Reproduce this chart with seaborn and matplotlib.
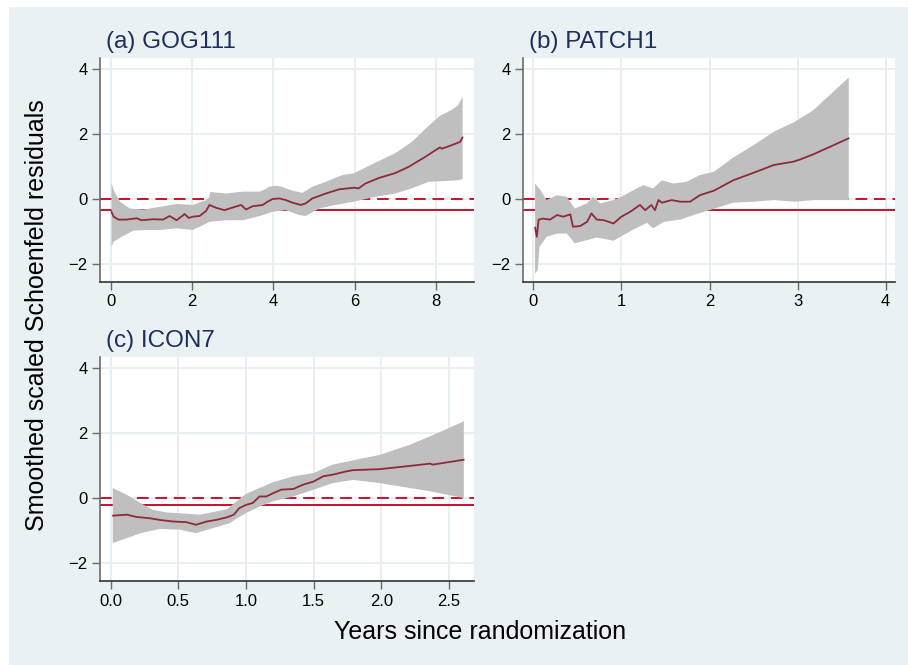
import numpy as np
import matplotlib
matplotlib.use("Agg")
import matplotlib.pyplot as plt
import seaborn as sns

# ---- data ----
# (a) GOG111
a_x = [0.02, 0.07, 0.19, 0.39, 0.64, 0.76, 1.04, 1.29, 1.45, 1.62, 1.82, 1.92, 2.02, 2.19, 2.35,
       2.43, 2.6, 2.8, 3.0, 3.21, 3.33, 3.49, 3.74, 3.86, 3.98, 4.15, 4.31, 4.47, 4.68, 4.8,
       4.96, 5.29, 5.62, 5.98, 6.1, 6.27, 6.6, 7.0, 7.33, 7.74, 8.1, 8.15, 8.35, 8.6, 8.66]
a_y = [-0.39, -0.54, -0.63, -0.63, -0.59, -0.65, -0.62, -0.63, -0.52, -0.65, -0.46, -0.58, -0.54, -0.52, -0.36,
       -0.18, -0.27, -0.34, -0.26, -0.18, -0.32, -0.22, -0.18, -0.08, 0.0, 0.02, -0.03, -0.11, -0.18, -0.13,
       0.02, 0.17, 0.30, 0.35, 0.33, 0.48, 0.65, 0.80, 0.99, 1.30, 1.59, 1.55, 1.64, 1.76, 1.90]
a_up_x = [0.02, 0.07, 0.23, 0.47, 0.8, 1.21, 1.62, 2.02, 2.35, 2.42, 2.45, 2.84, 3.25, 3.67, 3.8, 3.9,
          4.07, 4.2, 4.47, 4.72, 4.96, 5.29, 5.7, 5.98, 6.51, 7.0, 7.41, 7.82, 8.1, 8.39, 8.55, 8.66]
a_up = [0.51, 0.28, -0.08, -0.29, -0.32, -0.24, -0.15, -0.18, -0.03, 0.05, 0.22, 0.17, 0.23, 0.23, 0.30, 0.38,
        0.41, 0.38, 0.26, 0.19, 0.38, 0.53, 0.74, 0.79, 1.12, 1.41, 1.76, 2.25, 2.56, 2.74, 2.89, 3.15]
a_lo_x = [0.02, 0.07, 0.27, 0.56, 0.88, 1.21, 1.62, 2.02, 2.19, 2.43, 2.84, 3.25, 3.67, 3.98, 4.31, 4.64,
          4.8, 5.13, 5.53, 5.98, 6.51, 7.0, 7.41, 7.82, 8.14, 8.55, 8.66]
a_lo = [-1.47, -1.31, -1.16, -0.97, -0.95, -0.95, -0.90, -0.95, -0.85, -0.70, -0.65, -0.65, -0.52, -0.39, -0.34, -0.49,
        -0.52, -0.29, -0.18, -0.08, 0.07, 0.17, 0.33, 0.53, 0.55, 0.58, 0.62]
a_ref = -0.32

# (b) PATCH1
b_x = [0.02, 0.04, 0.06, 0.11, 0.19, 0.27, 0.34, 0.42, 0.45, 0.53, 0.61, 0.66, 0.72, 0.8, 0.91, 1.0,
       1.1, 1.21, 1.27, 1.34, 1.38, 1.42, 1.46, 1.57, 1.67, 1.78, 1.89, 2.05, 2.27, 2.5, 2.73, 2.95,
       3.03, 3.18, 3.58]
b_y = [-0.87, -1.16, -0.63, -0.60, -0.63, -0.49, -0.54, -0.47, -0.85, -0.83, -0.70, -0.44, -0.63, -0.65, -0.75, -0.54,
       -0.39, -0.18, -0.34, -0.18, -0.34, -0.03, -0.11, -0.03, -0.08, -0.08, 0.12, 0.26, 0.58, 0.81, 1.05, 1.15,
       1.22, 1.38, 1.87]
b_up_x = [0.02, 0.08, 0.15, 0.27, 0.38, 0.47, 0.61, 0.68, 0.76, 0.91, 1.0, 1.14, 1.25, 1.36, 1.46, 1.59,
          1.74, 1.89, 2.05, 2.27, 2.5, 2.73, 2.97, 3.18, 3.58]
b_up = [0.48, 0.28, -0.03, 0.12, 0.07, -0.29, -0.13, 0.07, -0.13, -0.03, 0.07, 0.28, 0.43, 0.33, 0.58, 0.48,
        0.53, 0.74, 0.84, 1.28, 1.66, 2.07, 2.38, 2.74, 3.74]
b_lo_x = [0.02, 0.05, 0.07, 0.15, 0.27, 0.38, 0.47, 0.61, 0.72, 0.91, 1.0, 1.14, 1.29, 1.36, 1.48, 1.67,
          1.82, 2.0, 2.27, 2.5, 2.73, 2.97, 3.18, 3.58]
b_lo = [-2.29, -2.18, -1.47, -1.16, -1.06, -1.06, -1.36, -1.26, -1.18, -1.28, -1.14, -0.93, -0.73, -0.90, -0.70, -0.63,
        -0.49, -0.34, -0.11, -0.08, -0.03, -0.08, -0.03, -0.03]
b_ref = -0.35

# (c) ICON7
c_x = [0.015, 0.12, 0.19, 0.29, 0.36, 0.46, 0.56, 0.63, 0.71, 0.78, 0.86, 0.91, 0.95, 1.0, 1.05, 1.1,
       1.15, 1.2, 1.26, 1.35, 1.42, 1.5, 1.57, 1.64, 1.74, 1.79, 1.99, 2.21, 2.36, 2.38, 2.61]
c_y = [-0.54, -0.51, -0.58, -0.62, -0.67, -0.72, -0.74, -0.82, -0.72, -0.67, -0.59, -0.51, -0.31, -0.21, -0.15, 0.05,
       0.05, 0.15, 0.26, 0.28, 0.41, 0.51, 0.67, 0.72, 0.82, 0.86, 0.89, 0.99, 1.06, 1.03, 1.18]
c_up_x = [0.015, 0.12, 0.22, 0.31, 0.41, 0.56, 0.66, 0.78, 0.86, 0.93, 1.0, 1.1, 1.2, 1.35, 1.5, 1.64,
          1.79, 1.99, 2.21, 2.36, 2.61]
c_up = [0.31, 0.10, -0.15, -0.36, -0.44, -0.48, -0.51, -0.41, -0.34, -0.10, 0.13, 0.31, 0.49, 0.67, 0.77, 1.03,
        1.16, 1.33, 1.64, 1.90, 2.36]
c_lo_x = [0.015, 0.12, 0.22, 0.36, 0.51, 0.63, 0.76, 0.88, 0.95, 1.0, 1.1, 1.2, 1.35, 1.5, 1.64, 1.79,
          1.99, 2.21, 2.36, 2.61]
c_lo = [-1.38, -1.23, -1.08, -0.95, -0.97, -1.08, -0.92, -0.77, -0.58, -0.46, -0.26, -0.10, 0.05, 0.26, 0.46, 0.56,
        0.46, 0.31, 0.21, 0.0]
c_ref = -0.2

titles = ["(a) GOG111", "(b) PATCH1", "(c) ICON7"]

# ---- style ----
sns.set_style("white")
plt.rcParams['font.family'] = ['Liberation Sans', 'DejaVu Sans']
plt.rcParams['axes.unicode_minus'] = True

BG = '#E9F1F3'
GRID = '#E6EEF1'
LINE = '#8E2A3A'
REF = '#C8102E'
BAND = '#BFBFBF'
NAVY = '#1F2E5C'

W, H = 908, 665
fig = plt.figure(figsize=(W / 100, H / 100), dpi=100, facecolor='white')
fig.patches.append(plt.Rectangle((9 / W, 0), 1 - 9 / W, 1 - 7 / H, transform=fig.transFigure,
                                 facecolor=BG, edgecolor='none', zorder=-10))


def px_axes(left, top, right, bottom):
    return fig.add_axes([left / W, 1 - bottom / H, (right - left) / W, (bottom - top) / H])


ax_a = px_axes(100, 58, 474, 282)
ax_b = px_axes(523, 58, 895, 282)
ax_c = px_axes(100, 357, 474, 581)

panels = [
    (ax_a, a_x, a_y, a_up_x, a_up, a_lo_x, a_lo, a_ref, (-0.263, 8.94), [0, 2, 4, 6, 8], '{:.0f}'),
    (ax_b, b_x, b_y, b_up_x, b_up, b_lo_x, b_lo, b_ref, (-0.117, 4.105), [0, 1, 2, 3, 4], '{:.0f}'),
    (ax_c, c_x, c_y, c_up_x, c_up, c_lo_x, c_lo, c_ref, (-0.079, 2.685), [0, 0.5, 1.0, 1.5, 2.0, 2.5], '{:.1f}'),
]

for (ax, x, y, ux, up, lx, lo, ref, xlim, xticks, fmt), title in zip(panels, titles):
    ax.set_facecolor('white')
    # reference lines sit underneath the band
    ax.axhline(0, color=REF, lw=1.4, ls=(0, (6, 3.5)), zorder=1)
    ax.axhline(ref, color=REF, lw=1.4, zorder=1)
    bx = np.r_[ux, lx[::-1]]
    by = np.r_[up, lo[::-1]]
    ax.fill(bx, by, color=BAND, lw=0, zorder=2)
    sns.lineplot(x=x, y=y, ax=ax, color=LINE, lw=1.3, estimator=None, zorder=3)

    ax.set_xlim(*xlim)
    ax.set_ylim(-2.55, 4.34)
    ax.set_xticks(xticks)
    ax.set_xticklabels([fmt.format(t) for t in xticks])
    ax.set_yticks([-2, 0, 2, 4])
    ax.set_yticklabels(['\u22122', '0', '2', '4'])
    ax.grid(True, color=GRID, lw=1.3, zorder=0)
    ax.set_axisbelow(True)
    for s in ['top', 'right']:
        ax.spines[s].set_visible(False)
    ax.spines['left'].set_color('#6b6b6b')
    ax.spines['bottom'].set_color('#333333')
    ax.spines['left'].set_linewidth(1.2)
    ax.spines['bottom'].set_linewidth(1.2)
    ax.tick_params(axis='both', which='major', direction='out', length=6, width=1.0,
                   color='#6b6b6b', labelsize=12, labelcolor='black', pad=3,
                   left=True, bottom=True)
    ax.set_xlabel('')
    ax.set_ylabel('')
    ax.set_title(title, loc='left', fontsize=17.5, color=NAVY, pad=7, x=0.015)

fig.text(37 / W, 1 - 315 / H, 'Smoothed scaled Schoenfeld residuals', rotation=90,
         ha='center', va='center', fontsize=18, color='black')
fig.text(480 / W, 1 - 632 / H, 'Years since randomization', ha='center', va='center',
         fontsize=18, color='black')

fig.savefig('out.png', dpi=100, facecolor=fig.get_facecolor())
